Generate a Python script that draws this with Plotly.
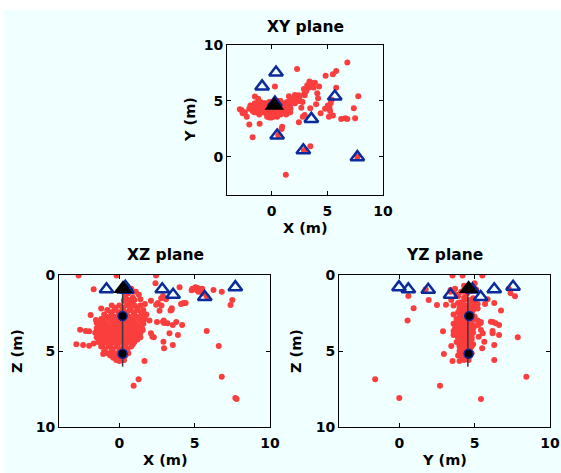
import plotly.graph_objects as go

W, H = 561, 473

# ---------------- data ----------------
# receiver stations (x, y, z in m)
sta_x = [0.4, -0.85, 5.67, 3.57, 0.5, 2.85, 7.7, 0.3]
sta_y = [7.55, 6.3, 5.4, 3.4, 1.92, 0.6, -0.02, 4.85]
sta_z = [0.77, 0.94, 1.45, 1.3, 0.97, 0.94, 0.8, 0.95]

# borehole head (black triangle)
head_x = [0.25]
head_y = [4.6]
head_z = [0.9]

# borehole trace and sensors
bore_x = [0.22, 0.22]
bore_y = [4.55, 4.55]
bore_z = [0.9, 6.03]
sens_x = [0.22, 0.22]
sens_y = [4.64, 4.6]
sens_z = [2.7, 5.18]

# events: main cluster
clus_x = [-0.5, 0.0, 0.5, 1.0, 1.4,
          -0.25, 0.25, 0.75, 1.2,
          -0.8, -0.3, 0.2, 0.7, 1.2, 1.6,
          -0.55, -0.05, 0.45, 0.95, 1.45,
          -1.0, -0.5, 0.0, 0.5, 1.0, 1.5, 1.8,
          -0.85, -0.35, 0.15, 0.65, 1.15, 1.6,
          -1.2, -0.7, -0.2, 0.3, 0.8, 1.3, 1.7,
          -1.05, -0.55, -0.05, 0.45, 0.95, 1.45,
          -1.4, -0.9, -0.4, 0.1, 0.6, 1.1, 1.6,
          -1.25, -0.75, -0.25, 0.25, 0.75, 1.25,
          -1.5, -1.0, -0.5, 0.0, 0.5, 1.0, 1.5,
          -1.3, -0.8, -0.3, 0.2, 0.7, 1.2,
          -1.6, -1.1, -0.6, -0.1, 0.4, 0.9, 1.4,
          -1.35, -0.85, -0.35, 0.15, 0.65, 1.15,
          -1.5, -1.0, -0.5, 0.0, 0.5, 1.0, 1.4,
          -1.2, -0.7, -0.2, 0.3, 0.8, 1.2,
          -1.4, -0.9, -0.4, 0.1, 0.6, 1.0,
          -1.1, -0.6, -0.1, 0.4, 0.9,
          -1.2, -0.7, -0.2, 0.3, 0.8,
          -0.95, -0.45, 0.05, 0.55,
          -1.0, -0.5, 0.0, 0.5,
          -0.8, -0.3, 0.2, 0.6,
          -0.6, -0.1, 0.4,
          -0.4, 0.1,
          -0.2, 0.3]
clus_y = [4.3, 4.7, 4.1, 4.6, 4.9,
          4.5, 4.0, 4.4, 4.7,
          4.6, 4.0, 4.5, 4.9, 4.2, 4.5,
          4.3, 4.8, 4.2, 3.9, 4.6,
          4.2, 4.8, 4.3, 3.6, 4.6, 4.1, 4.8,
          4.4, 4.0, 4.6, 5.0, 4.3, 4.5,
          4.6, 4.1, 4.9, 4.4, 3.8, 4.7, 4.3,
          4.8, 4.3, 4.0, 4.5, 4.4, 4.2,
          4.0, 4.5, 3.6, 4.7, 4.2, 4.8, 4.0,
          4.3, 4.0, 4.6, 4.2, 5.0, 4.5,
          4.5, 4.9, 4.2, 3.7, 4.6, 4.1, 4.6,
          4.7, 4.4, 4.1, 4.8, 4.3, 4.6,
          4.2, 3.8, 4.7, 4.3, 4.9, 4.0, 4.4,
          4.0, 4.6, 4.3, 3.6, 4.6, 4.3,
          4.8, 4.3, 3.9, 4.6, 4.1, 4.7, 3.9,
          4.4, 4.8, 4.1, 4.4, 4.0, 4.6,
          4.1, 4.6, 4.4, 3.8, 4.5, 4.2,
          4.7, 4.2, 4.5, 4.9, 4.3,
          4.5, 4.0, 4.8, 4.3, 4.6,
          4.3, 4.6, 4.2, 4.4,
          4.2, 4.7, 4.0, 4.5,
          4.5, 4.1, 4.8, 4.2,
          4.4, 3.9, 4.7,
          4.5, 4.2,
          4.3, 4.6]
clus_z = [2.0, 2.0, 2.0, 2.0, 2.0,
          2.15, 2.15, 2.15, 2.15,
          2.3, 2.3, 2.3, 2.3, 2.3, 2.3,
          2.45, 2.45, 2.45, 2.45, 2.45,
          2.6, 2.6, 2.6, 2.6, 2.6, 2.6, 2.6,
          2.75, 2.75, 2.75, 2.75, 2.75, 2.75,
          2.9, 2.9, 2.9, 2.9, 2.9, 2.9, 2.9,
          3.05, 3.05, 3.05, 3.05, 3.05, 3.05,
          3.2, 3.2, 3.2, 3.2, 3.2, 3.2, 3.2,
          3.35, 3.35, 3.35, 3.35, 3.35, 3.35,
          3.5, 3.5, 3.5, 3.5, 3.5, 3.5, 3.5,
          3.65, 3.65, 3.65, 3.65, 3.65, 3.65,
          3.8, 3.8, 3.8, 3.8, 3.8, 3.8, 3.8,
          3.95, 3.95, 3.95, 3.95, 3.95, 3.95,
          4.1, 4.1, 4.1, 4.1, 4.1, 4.1, 4.1,
          4.25, 4.25, 4.25, 4.25, 4.25, 4.25,
          4.4, 4.4, 4.4, 4.4, 4.4, 4.4,
          4.55, 4.55, 4.55, 4.55, 4.55,
          4.7, 4.7, 4.7, 4.7, 4.7,
          4.85, 4.85, 4.85, 4.85,
          5.0, 5.0, 5.0, 5.0,
          5.15, 5.15, 5.15, 5.15,
          5.3, 5.3, 5.3,
          5.45, 5.45,
          5.6, 5.6]

# events: upper part of the column
up_x = [0.6, 0.9, 0.3, 1.1, 0.7, 1.4, 0.4, 0.8, 1.3, 0.5,
        0.6, 0.9, 0.89, 1.0, 2.1, 2.78, 2.56, 2.67, 3.47, 1.7]
up_y = [4.5, 4.3, 4.8, 4.6, 4.1, 4.4, 3.9, 5.0, 3.8, 4.3,
        1.95, 2.5, 4.3, 4.7, 4.8, 4.9, 5.0, 4.4, 4.35, 5.2]
up_z = [1.2, 1.5, 1.7, 1.1, 1.8, 1.6, 1.4, 0.9, 1.3, 0.7,
        1.64, 1.97, 1.1, 1.64, 1.7, 1.53, 1.85, 2.35, 2.3, 1.9]

# events: north-east tail
rt_x = [2.5, 2.9, 3.2, 3.55, 3.78, 3.33, 3.89, 2.93, 3.55, 2.1,
        1.56, 2.0, 2.2, 2.97, 4.27, 3.1, 3.4, 4.1, 4.17, 2.97,
        4.4, 2.8, 2.95, 3.48, 2.45]
rt_y = [5.4, 6.08, 6.4, 6.62, 6.2, 6.19, 6.62, 5.64, 6.3, 5.54,
        5.42, 5.2, 5.27, 5.5, 6.3, 5.86, 6.75, 5.69, 5.24, 3.75,
        3.9, 3.6, 0.55, 0.95, 3.1]
rt_z = [3.1, 3.07, 3.18, 3.29, 3.1, 3.84, 3.95, 4.39, 4.6, 3.84,
        3.62, 3.0, 4.06, 4.82, 1.85, 1.6, 2.33, 1.9, 3.29, 3.15,
        1.85, 2.0, 3.0, 2.19, 1.95]

# events: shallow ones
sh_x = [5.15, 5.5, 5.2, 5.3, 5.4, 5.05, 4.8, 5.25, 4.0, 2.4,
        6.25, 6.8, 2.9, 5.5, 5.8, 4.85, -0.18, -2.7, 2.44, -1.7]
sh_y = [3.6, 3.7, 4.4, 4.8, 5.1, 4.6, 4.3, 4.1, 4.7, 5.0,
        3.4, 3.4, 0.6, 7.38, 7.68, 7.26, 3.53, 4.2, 5.51, 1.75]
sh_z = [1.0, 0.9, 0.85, 1.05, 0.95, 0.8, 1.0, 1.1, 0.81, 0.55,
        0.99, 1.1, 1.38, 1.2, 1.4, 0.9, 0.04, 0.04, 0.04, 0.94]

# events: western ones
lf_x = [-2.23, -2.85, -2.4, -2.0, -1.7, -1.9, -1.5, -1.2, -1.55, -2.6, -2.0, -1.07]
lf_y = [3.6, 4.25, 4.0, 4.3, 4.1, 4.6, 5.4, 5.2, 4.0, 3.9, 2.9, 2.96]
lf_z = [3.68, 4.55, 4.6, 4.65, 4.5, 2.63, 3.16, 2.2, 2.96, 3.6, 3.7, 5.2]

# events: deep / far ones
dp_x = [7.78, 7.7, 6.8, 1.28, 0.95, 6.6, 0.3, 1.67, 0.0, 2.29, 5.8, 7.5, 7.38]
dp_y = [5.42, 0.0, 8.43, -1.6, 2.7, 3.45, 6.3, 4.0, 3.53, 7.86, 6.19, 3.45, 4.35]
dp_z = [8.16, 8.1, 6.69, 6.86, 7.28, 4.67, 5.6, 5.66, 5.66, 4.1, 3.68, 1.64, 1.97]

tick_vals = [0, 5, 10]
panel_titles = ["XY plane", "XZ plane", "YZ plane"]
x_titles = ["X (m)", "X (m)", "Y (m)"]
y_titles = ["Y (m)", "Z (m)", "Z (m)"]

# ---------------- figure ----------------
ev_x = clus_x + up_x + rt_x + sh_x + lf_x + dp_x
ev_y = clus_y + up_y + rt_y + sh_y + lf_y + dp_y
ev_z = clus_z + up_z + rt_z + sh_z + lf_z + dp_z

RED = "#fa3e3e"
NAVY = "#0b2a9b"
BG = "#f0ffff"
FONT = "DejaVu Sans"

fig = go.Figure()


def add_panel(xa, ya, eh, ev, sh, sv, hh, hv, bh, bv, nh, nv):
    fig.add_trace(go.Scatter(x=eh, y=ev, mode="markers", xaxis=xa, yaxis=ya,
                             marker=dict(color=RED, size=6, line=dict(width=0)),
                             showlegend=False, hoverinfo="skip"))
    if bh is not None:
        fig.add_trace(go.Scatter(x=bh, y=bv, mode="lines", xaxis=xa, yaxis=ya,
                                 line=dict(color="#3a3a3a", width=1.5),
                                 showlegend=False, hoverinfo="skip"))
    fig.add_trace(go.Scatter(x=sh, y=sv, mode="markers", xaxis=xa, yaxis=ya,
                             marker=dict(symbol="triangle-up-open", color=NAVY, size=12,
                                         line=dict(width=2.5, color=NAVY)),
                             showlegend=False, hoverinfo="skip"))
    fig.add_trace(go.Scatter(x=hh, y=hv, mode="markers", xaxis=xa, yaxis=ya,
                             marker=dict(symbol="triangle-up", color="black", size=17,
                                         line=dict(width=0)),
                             showlegend=False, hoverinfo="skip"))
    if nh is not None:
        fig.add_trace(go.Scatter(x=nh, y=nv, mode="markers", xaxis=xa, yaxis=ya,
                                 marker=dict(symbol="circle", color="black", size=9,
                                             line=dict(width=1.5, color=NAVY)),
                                 showlegend=False, hoverinfo="skip"))


add_panel("x", "y", ev_x, ev_y, sta_x, sta_y, head_x, head_y, None, None, None, None)
add_panel("x2", "y2", ev_x, ev_z, sta_x, sta_z, head_x, head_z, bore_x, bore_z, sens_x, sens_z)
add_panel("x3", "y3", ev_y, ev_z, sta_y, sta_z, head_y, head_z, bore_y, bore_z, sens_y, sens_z)


def px(v):
    return v / W


def py(v):
    return 1 - v / H


# pixel boxes of the three axes on the page: (left, right, top, bottom)
boxes = [(227, 383, 45, 195), (59, 270, 275, 427), (339, 550, 275, 427)]

common = dict(showline=True, linecolor="black", linewidth=1, mirror="ticks",
              ticks="inside", ticklen=4, tickwidth=1, tickcolor="black",
              showgrid=False, zeroline=False, tickvals=tick_vals,
              tickfont=dict(family=FONT, size=14, color="black", weight="bold"),
              fixedrange=True)

layout_axes = {}
names = [("xaxis", "yaxis", "x", "y"), ("xaxis2", "yaxis2", "x2", "y2"),
         ("xaxis3", "yaxis3", "x3", "y3")]
for i, (xk, yk, xa, ya) in enumerate(names):
    l, r, t, b = boxes[i]
    layout_axes[xk] = dict(common, domain=[px(l), px(r)], range=[-4, 10], anchor=ya,
                           ticklabelstandoff=3)
    yr = [-3.4, 10] if i == 0 else [10, 0]
    layout_axes[yk] = dict(common, domain=[py(b), py(t)], range=yr, anchor=xa,
                           ticklabelstandoff=0)

annotations = []
title_pos = [(305, 27), (165, 255), (444, 255)]
xlab_pos = [(305, 228), (165, 460), (444, 460)]
ylab_pos = [(190, 120), (17, 351), (296, 351)]
for i in range(3):
    annotations.append(dict(text="<b>%s</b>" % panel_titles[i], x=px(title_pos[i][0]),
                            y=py(title_pos[i][1]), xref="paper", yref="paper",
                            xanchor="center", yanchor="middle", showarrow=False,
                            font=dict(family=FONT, size=15.5, color="black")))
    annotations.append(dict(text="<b>%s</b>" % x_titles[i], x=px(xlab_pos[i][0]),
                            y=py(xlab_pos[i][1]), xref="paper", yref="paper",
                            xanchor="center", yanchor="middle", showarrow=False,
                            font=dict(family=FONT, size=14.5, color="black")))
    annotations.append(dict(text="<b>%s</b>" % y_titles[i], x=px(ylab_pos[i][0]),
                            y=py(ylab_pos[i][1]), xref="paper", yref="paper",
                            xanchor="center", yanchor="middle", showarrow=False,
                            textangle=-90,
                            font=dict(family=FONT, size=14.5, color="black")))

# white page strips at the top and left of the figure
shapes = [
    dict(type="rect", xref="paper", yref="paper", x0=0, x1=1, y0=py(10), y1=1,
         fillcolor="white", line=dict(width=0), layer="below"),
    dict(type="rect", xref="paper", yref="paper", x0=0, x1=px(3), y0=0, y1=1,
         fillcolor="white", line=dict(width=0), layer="below"),
]

fig.update_layout(width=W, height=H, margin=dict(l=0, r=0, t=0, b=0, autoexpand=False),
                  paper_bgcolor=BG, plot_bgcolor=BG, showlegend=False,
                  annotations=annotations, shapes=shapes, **layout_axes)

fig.write_html("out.html",
               config={"displayModeBar": False, "staticPlot": True},
               post_script="document.body.style.margin='0';"
                           "document.body.style.overflow='hidden';")
